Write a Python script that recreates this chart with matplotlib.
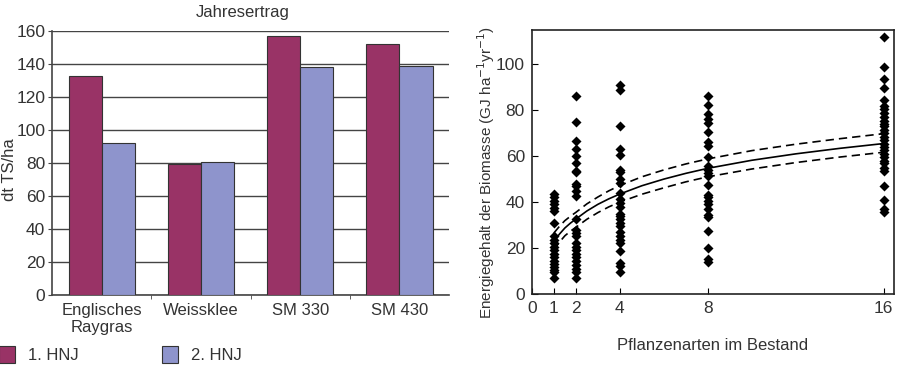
import numpy as np
import matplotlib.pyplot as plt

plt.rcParams['font.family'] = ['Liberation Sans', 'DejaVu Sans']

# Jahresertrag (dt TS/ha)
sorten = ['Englisches\nRaygras', 'Weissklee', 'SM 330', 'SM 430']
hnj1 = [133, 79.5, 157, 152]
hnj2 = [92, 80.5, 138, 138.5]

# Energiegehalt der Biomasse je Artenzahl
x1 = [43.5, 42, 40.5, 39, 37.5, 36, 31, 25, 23.5, 22, 20.5, 19, 17.5, 16, 14.5, 13, 11.5, 10.5, 9.5, 7]
x2 = [86, 75, 66.5, 63, 60, 57, 53.5, 53, 48, 47, 45, 42.5, 32.5, 28, 26.5, 25, 22, 20.5, 19,
      17.5, 16, 14.5, 12.5, 11, 9.5, 7]
x4 = [91, 89, 73, 63, 60.5, 54, 53, 50, 48.5, 44, 41.5, 39.5, 38, 35, 34, 32.5, 31, 29.5, 27,
      25, 23.5, 22, 18.5, 13.5, 12, 9.5]
x8 = [86, 82.5, 78.5, 76, 74.5, 70.5, 66, 64.5, 59.5, 55.5, 54, 52.5, 51.5, 47.5, 43, 42, 40.5,
      39, 37, 34.5, 33.5, 27.5, 20, 15, 14]
x16 = [112, 99, 93.5, 89.5, 84.5, 82, 80.5, 79, 77, 75.5, 74, 73, 71.5, 70, 68.5, 67, 65.5, 64,
       62.5, 61, 59.5, 58, 57, 55, 53.5, 47, 41, 37, 35.5]
arten = [1, 2, 4, 8, 16]
werte = [x1, x2, x4, x8, x16]

# Regressionskurve und Konfidenzband
kurve_x = [1, 1.25, 1.5, 1.75, 2, 2.5, 3, 3.5, 4, 5, 6, 7, 8, 10, 12, 14, 16]
kurve_y = [22.8, 26, 28.7, 30.8, 32.6, 36.1, 39, 41.4, 43.5, 47.1, 50, 52.5, 54.7, 58.2, 61, 63.4, 65.5]
oben_y = [26.5, 29.4, 31.9, 33.8, 35.5, 39.2, 42.2, 44.9, 47.2, 51, 54, 56.6, 58.8, 62.4, 65.2, 67.6, 69.8]
unten_y = [19, 22.5, 25.3, 27.3, 29, 32.5, 35.4, 37.9, 40, 43.4, 46.2, 48.8, 51, 54.4, 57.2, 59.6, 61.7]

textfarbe = '#333333'
fig = plt.figure(figsize=(9, 3.65), dpi=100)

# linkes Diagramm
ax1 = fig.add_axes([0.058, 0.192, 0.441, 0.723])
pos = np.arange(len(sorten))
b1 = ax1.bar(pos - 1/6, hnj1, width=1/3, color='#993366', edgecolor='#333333', linewidth=0.8, zorder=3, label='1. HNJ')
b2 = ax1.bar(pos + 1/6, hnj2, width=1/3, color='#8e94cc', edgecolor='#333333', linewidth=0.8, zorder=3, label='2. HNJ')
ax1.set_xlim(-0.5, 3.5)
ax1.set_ylim(0, 160)
ax1.set_yticks(range(0, 161, 20))
ax1.yaxis.grid(True, color='#444444', linewidth=1, zorder=0)
ax1.set_xticks(pos)
ax1.set_xticklabels(sorten, fontsize=12, color=textfarbe, linespacing=1.15)
ax1.set_xticks([0.5, 1.5, 2.5], minor=True)
ax1.tick_params(axis='x', which='major', length=0, pad=6)
ax1.tick_params(axis='x', which='minor', length=3, color='#444444')
ax1.tick_params(axis='y', length=3, color='#444444', labelsize=12.5, labelcolor=textfarbe, pad=2)
for s in ['top', 'right']:
    ax1.spines[s].set_visible(False)
for s in ['left', 'bottom']:
    ax1.spines[s].set_color('#444444')
    ax1.spines[s].set_linewidth(1.2)
fig.text(0.002, 1 - 170 / 365, 'dt TS/ha', rotation=90, ha='left', va='center', fontsize=12, color=textfarbe)
ax1.set_title('Jahresertrag', fontsize=12, color=textfarbe, pad=10, x=0.48)
fig.legend(handles=[b1, b2], loc='lower left', bbox_to_anchor=(-0.018, -0.035), ncol=2, frameon=False,
           fontsize=12, handlelength=0.95, handleheight=1.2, handletextpad=0.8, columnspacing=5.0,
           labelcolor=textfarbe)

# rechtes Diagramm
ax2 = fig.add_axes([0.591, 0.195, 0.402, 0.723])
for a, w in zip(arten, werte):
    ax2.scatter([a] * len(w), w, marker='D', s=26, color='black', linewidths=0, zorder=3)
ax2.plot(kurve_x, kurve_y, color='black', linewidth=1.2)
ax2.plot(kurve_x, oben_y, color='black', linewidth=1.2, linestyle=(0, (5, 3)))
ax2.plot(kurve_x, unten_y, color='black', linewidth=1.2, linestyle=(0, (5, 3)))
ax2.set_xlim(0, 16.45)
ax2.set_ylim(0, 115)
ax2.set_xticks([0, 1, 2, 4, 8, 16])
ax2.set_yticks(range(0, 101, 20))
ax2.tick_params(direction='in', length=4, labelsize=12.5, labelcolor=textfarbe, pad=5)
ax2.set_xlabel('Pflanzenarten im Bestand', fontsize=12, color=textfarbe, labelpad=16)
ax2.set_ylabel('Energiegehalt der Biomasse (GJ ha$^{-1}$yr$^{-1}$)', fontsize=11, color=textfarbe)
ax2.yaxis.set_label_coords(-0.097, 0.46)
for s in ax2.spines.values():
    s.set_color('#222222')
    s.set_linewidth(1.2)

fig.savefig('out.png', dpi=100)
